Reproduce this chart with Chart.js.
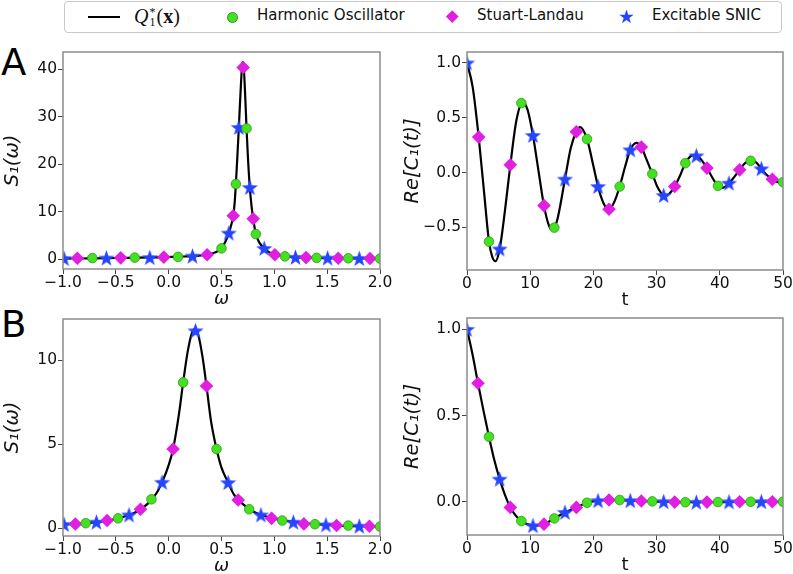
<!DOCTYPE html>
<html>
<head>
<meta charset="utf-8">
<script src="https://cdn.jsdelivr.net/npm/chart.js@4.4.1/dist/chart.umd.min.js"></script>
<style>
  html, body { margin: 0; padding: 0; background: #fff; overflow: hidden; }
  body { width: 793px; height: 574px; position: relative; font-family: 'DejaVu Sans', sans-serif; }
  .box { position: absolute; }
  .txt { position: absolute; white-space: nowrap; color: #111; }
  .q { font-family: 'Liberation Serif', serif; font-size: 20px; line-height: 22px; }
  .ss { display: inline-block; vertical-align: top; font-size: 12px; line-height: 10px; margin: 2px 1px 0 1px; }
  .ss span { display: block; }
</style>
</head>
<body>

<div class="box" style="left:64px;top:1px;width:716px;height:30px;border:1.5px solid #c9c9c9;border-radius:4px;"></div>
<div class="box" style="left:88px;top:15.5px;width:32px;height:2.5px;background:#000;"></div>
<div class="txt q" style="left:134px;top:5px;"><i>Q</i><span class="ss"><span>*</span><span>1</span></span>(<b>x</b>)</div>
<div class="box" style="left:227px;top:11.5px;width:9px;height:9px;border-radius:50%;background:#44e022;border:0.8px solid #2f9a14;"></div>
<div class="txt" style="left:257px;top:8px;font-size:15px;line-height:15px;">Harmonic Oscillator</div>
<div class="box" style="left:447.5px;top:12px;width:8.5px;height:8.5px;background:#e01fe0;transform:rotate(45deg);"></div>
<div class="txt" style="left:477px;top:8px;font-size:15px;line-height:15px;">Stuart-Landau</div>
<canvas id="legStar" class="box" width="15" height="15" style="left:618.5px;top:8.5px;"></canvas>
<div class="txt" style="left:652px;top:8px;font-size:15px;line-height:15px;">Excitable SNIC</div>

<div class="txt" style="left:1px;top:45px;font-size:37px;line-height:36px;color:#000;">A</div>
<div class="txt" style="left:1px;top:307px;font-size:37px;line-height:36px;color:#000;">B</div>

<canvas id="aL" class="box" width="395" height="273" style="left:0px;top:40px;"></canvas>
<canvas id="aR" class="box" width="398" height="274" style="left:395px;top:40px;"></canvas>
<canvas id="bL" class="box" width="395" height="275" style="left:0px;top:305px;"></canvas>
<canvas id="bR" class="box" width="398" height="274" style="left:395px;top:305px;"></canvas>

<script>
// ---- panel A, spectrum S1(w) ----
const aSpecLineX = [-1.0, -0.7, -0.4, -0.1, 0.1, 0.25, 0.36, 0.45, 0.5, 0.54, 0.569, 0.59, 0.611, 0.625, 0.636, 0.65, 0.664, 0.68, 0.695, 0.703, 0.712, 0.725, 0.737, 0.75, 0.768, 0.785, 0.8, 0.825, 0.86, 0.904, 0.95, 1.005, 1.1, 1.2, 1.35, 1.5, 1.7, 2.0]
const aSpecLineY = [0.1, 0.15, 0.25, 0.35, 0.5, 0.65, 0.9, 1.5, 2.24, 3.8, 5.46, 7.0, 9.1, 12.0, 15.8, 21.5, 27.7, 35.0, 40.8, 41.5, 40.0, 34.0, 27.5, 21.5, 15.06, 11.0, 8.48, 5.25, 3.4, 2.24, 1.45, 0.9, 0.56, 0.35, 0.27, 0.2, 0.15, 0.1]
const aSpecHoX = [-0.722, -0.321, 0.089, 0.5, 0.636, 0.737, 0.825, 1.1, 1.4, 1.7, 2.0]
const aSpecHoY = [0.2, 0.3, 0.45, 2.24, 15.8, 27.5, 5.25, 0.56, 0.25, 0.15, 0.1]
const aSpecSlX = [-0.864, -0.454, -0.046, 0.364, 0.611, 0.705, 0.8, 1.005, 1.3, 1.605, 1.905]
const aSpecSlY = [0.15, 0.25, 0.4, 0.9, 9.1, 40.35, 8.48, 0.9, 0.3, 0.15, 0.1]
const aSpecSnX = [-0.99, -0.589, -0.179, 0.225, 0.569, 0.664, 0.768, 0.904, 1.2, 1.504, 1.804]
const aSpecSnY = [0.1, 0.2, 0.3, 0.6, 5.46, 27.7, 15.06, 2.24, 0.35, 0.2, 0.1]

// ---- panel A, correlation Re[C1(t)] ----
const aCorLineX = [0, 0.9, 1.85, 2.7, 3.48, 4.0, 4.5, 5.17, 6.0, 6.86, 7.8, 8.8, 9.6, 10.44, 11.3, 12.18, 13.0, 13.5, 14.2, 15.5, 16.4, 17.3, 17.9, 18.99, 20.0, 20.73, 21.6, 22.47, 23.3, 24.16, 25.0, 25.84, 26.8, 27.58, 28.4, 29.32, 30.2, 31.3, 32.0, 32.86, 33.7, 34.55, 35.3, 36.1, 37.0, 37.97, 38.9, 39.71, 40.4, 41.45, 42.3, 43.14, 44.0, 44.9, 45.7, 46.57, 47.4, 48.31, 49.3, 50]
const aCorLineY = [1.0, 0.78, 0.323, -0.18, -0.631, -0.77, -0.81, -0.698, -0.35, 0.07, 0.47, 0.64, 0.57, 0.338, 0.02, -0.302, -0.49, -0.52, -0.45, -0.061, 0.22, 0.372, 0.415, 0.305, 0.06, -0.128, -0.28, -0.335, -0.27, -0.128, 0.05, 0.207, 0.27, 0.232, 0.12, -0.012, -0.14, -0.215, -0.195, -0.128, -0.03, 0.085, 0.145, 0.16, 0.12, 0.04, -0.055, -0.122, -0.14, -0.098, -0.04, 0.024, 0.085, 0.11, 0.095, 0.034, -0.02, -0.061, -0.09, -0.088]
const aCorHoX = [3.48, 8.6, 13.82, 18.99, 24.16, 29.32, 34.55, 39.71, 44.88, 50]
const aCorHoY = [-0.631, 0.634, -0.503, 0.305, -0.128, -0.012, 0.085, -0.122, 0.107, -0.088]
const aCorSlX = [1.85, 6.86, 12.18, 17.3, 22.47, 27.58, 32.86, 37.97, 43.14, 48.31]
const aCorSlY = [0.323, 0.07, -0.302, 0.372, -0.335, 0.232, -0.128, 0.04, 0.024, -0.061]
const aCorSnX = [0, 5.17, 10.44, 15.5, 20.73, 25.84, 31.12, 36.29, 41.45, 46.57]
const aCorSnY = [1.0, -0.698, 0.338, -0.061, -0.128, 0.207, -0.21, 0.152, -0.098, 0.034]

// ---- panel B, spectrum ----
const bSpecLineX = [-1.0, -0.8, -0.6, -0.45, -0.3, -0.2, -0.1, 0.0, 0.042, 0.1, 0.137, 0.18, 0.22, 0.25, 0.28, 0.32, 0.358, 0.4, 0.453, 0.5, 0.563, 0.62, 0.7, 0.8, 0.9, 1.0, 1.2, 1.4, 1.6, 1.8, 2.0]
const bSpecLineY = [0.22, 0.29, 0.44, 0.64, 1.0, 1.45, 2.25, 3.75, 4.71, 6.9, 8.67, 10.5, 11.6, 11.85, 11.5, 10.2, 8.46, 6.4, 4.71, 3.6, 2.71, 1.98, 1.45, 1.0, 0.74, 0.57, 0.36, 0.24, 0.16, 0.12, 0.1]
const bSpecHoX = [-0.785, -0.479, -0.163, 0.137, 0.453, 0.762, 1.075, 1.384, 1.7, 2.0]
const bSpecHoY = [0.3, 0.59, 1.72, 8.67, 4.71, 1.13, 0.46, 0.24, 0.16, 0.1]
const bSpecSlX = [-0.883, -0.583, -0.267, 0.042, 0.358, 0.658, 0.974, 1.28, 1.589, 1.9]
const bSpecSlY = [0.25, 0.46, 1.13, 4.71, 8.46, 1.68, 0.59, 0.26, 0.16, 0.12]
const bSpecSnX = [-0.99, -0.684, -0.375, -0.062, 0.254, 0.563, 0.873, 1.18, 1.488, 1.804]
const bSpecSnY = [0.22, 0.36, 0.79, 2.73, 11.74, 2.71, 0.79, 0.36, 0.2, 0.12]

// ---- panel B, correlation ----
const bCorLineX = [0, 0.9, 1.74, 2.6, 3.48, 4.3, 5.17, 6.0, 6.86, 7.7, 8.6, 9.5, 10.44, 11.3, 12.18, 13.0, 13.82, 15.5, 17.3, 18.99, 20.73, 22.47, 24.16, 25.84, 27.58, 30, 33, 36, 40, 45, 50]
const bCorLineY = [1.0, 0.85, 0.687, 0.53, 0.377, 0.245, 0.131, 0.04, -0.033, -0.08, -0.112, -0.13, -0.139, -0.137, -0.13, -0.115, -0.097, -0.062, -0.033, -0.006, 0.006, 0.01, 0.01, 0.006, 0.004, 0.001, -0.002, -0.003, -0.002, 0, 0]
const bCorHoX = [3.48, 8.6, 13.82, 18.99, 24.16, 29.32, 34.55, 39.71, 44.88, 50]
const bCorHoY = [0.377, -0.112, -0.097, -0.006, 0.01, 0.002, -0.003, -0.002, 0, 0]
const bCorSlX = [1.74, 6.86, 12.18, 17.3, 22.47, 27.58, 32.86, 37.97, 43.14, 48.31]
const bCorSlY = [0.687, -0.033, -0.13, -0.033, 0.01, 0.004, -0.002, -0.002, 0, 0]
const bCorSnX = [0, 5.17, 10.44, 15.5, 20.73, 25.84, 31.12, 36.29, 41.45, 46.57]
const bCorSnY = [1.0, 0.131, -0.139, -0.062, 0.006, 0.006, 0, -0.003, -0.001, 0]

// ticks
const omegaTicks = [-1.0, -0.5, 0.0, 0.5, 1.0, 1.5, 2.0]
const timeTicks = [0, 10, 20, 30, 40, 50]
const aSpecTicks = [0, 10, 20, 30, 40]
const bSpecTicks = [0, 5, 10]
const aCorTicks = [-0.5, 0.0, 0.5, 1.0]
const bCorTicks = [0.0, 0.5, 1.0]

const GREEN = '#44e022', GREEN_EDGE = '#2f9a14', MAGENTA = '#e01fe0', BLUE = '#2545ff'

Chart.defaults.font.family = 'DejaVu Sans'
Chart.defaults.color = '#111'

function drawStar(c, color) {
    const g = c.getContext('2d')
    const R = c.width / 2, r = R * 0.4, cx = c.width / 2, cy = c.height / 2 + 0.6
    g.beginPath()
    for (let i = 0; i < 10; i++) {
        const a = -Math.PI / 2 + i * Math.PI / 5
        const rr = i % 2 ? r : R
        g.lineTo(cx + rr * Math.cos(a), cy + rr * Math.sin(a))
    }
    g.closePath()
    g.fillStyle = color
    g.fill()
}
function makeStar(size, color) {
    const c = document.createElement('canvas')
    c.width = c.height = size
    drawStar(c, color)
    return c
}
drawStar(document.getElementById('legStar'), BLUE)
const starImg = makeStar(17, BLUE)

const zip = (xs, ys) => xs.map((x, i) => ({ x: x, y: ys[i] }))
const minus = s => s.replace('-', '\u2212')
const fmt1 = v => minus(Number(v).toFixed(1))
const fmt0 = v => minus(String(Math.round(v)))

const frame = {
    id: 'frame',
    afterDatasetsDraw(chart) {
        const { ctx, chartArea: a } = chart
        ctx.save()
        ctx.strokeStyle = '#8c8c8c'
        ctx.lineWidth = 1.5
        ctx.strokeRect(a.left, a.top, a.right - a.left, a.bottom - a.top)
        ctx.restore()
    }
}

const panel = function (id, p) {
    return new Chart(document.getElementById(id), {
        type: 'scatter',
        data: {
            datasets: [
                { data: zip(p.hoX, p.hoY), pointStyle: 'circle', pointRadius: 4.8, backgroundColor: GREEN, borderColor: GREEN_EDGE, borderWidth: 0.8, clip: 0, order: 1 },
                { data: zip(p.slX, p.slY), pointStyle: 'rectRot', pointRadius: 6.8, backgroundColor: MAGENTA, borderColor: MAGENTA, borderWidth: 0, clip: 0, order: 1 },
                { data: zip(p.snX, p.snY), pointStyle: starImg, pointRadius: 7, clip: 0, order: 1 },
                { data: zip(p.lineX, p.lineY), showLine: true, pointRadius: 0, borderColor: '#000', borderWidth: 2.2, cubicInterpolationMode: 'monotone', clip: 0, order: 5 }
            ]
        },
        options: {
            responsive: false,
            animation: false,
            devicePixelRatio: 1,
            layout: { padding: { top: p.padTop, right: p.padRight, left: 0, bottom: 0 } },
            plugins: { legend: { display: false }, tooltip: { enabled: false } },
            scales: {
                x: {
                    type: 'linear', min: p.xMin, max: p.xMax,
                    afterBuildTicks: s => { s.ticks = p.xTicks.map(v => ({ value: v })) },
                    afterFit: s => { s.height = 44 },
                    ticks: { autoSkip: false, maxRotation: 0, padding: 0, color: '#111', font: { size: 15.5 }, callback: p.xFmt },
                    grid: { drawOnChartArea: false, tickLength: 5, color: '#444' },
                    border: { display: false },
                    title: { display: true, text: p.xTitle, color: '#111', font: { size: 18, style: p.xStyle }, padding: { top: 0, bottom: 3.3 } }
                },
                y: {
                    type: 'linear', min: p.yMin, max: p.yMax,
                    afterBuildTicks: s => { s.ticks = p.yTicks.map(v => ({ value: v })) },
                    afterFit: s => { s.width = p.yw },
                    ticks: { autoSkip: false, padding: 1, color: '#111', font: { size: 15.5 }, callback: p.yFmt },
                    grid: { drawOnChartArea: false, tickLength: 5, color: '#444' },
                    border: { display: false },
                    title: { display: true, text: p.yTitle, color: '#111', font: { size: 19.5, style: 'italic' }, padding: { top: p.ytPad, bottom: 0 } }
                }
            }
        },
        plugins: [frame]
    })
}

panel('aL', {
    lineX: aSpecLineX, lineY: aSpecLineY, hoX: aSpecHoX, hoY: aSpecHoY, slX: aSpecSlX, slY: aSpecSlY, snX: aSpecSnX, snY: aSpecSnY,
    xMin: -1, xMax: 2, yMin: -2.1, yMax: 43.6, xTicks: omegaTicks, yTicks: aSpecTicks, xFmt: fmt1, yFmt: fmt0,
    xTitle: '\u03c9', xStyle: 'italic', yTitle: 'S\u2081(\u03c9)', padTop: 12, padRight: 15, yw: 63, ytPad: 1
})
panel('aR', {
    lineX: aCorLineX, lineY: aCorLineY, hoX: aCorHoX, hoY: aCorHoY, slX: aCorSlX, slY: aCorSlY, snX: aCorSnX, snY: aCorSnY,
    xMin: 0, xMax: 50, yMin: -0.89, yMax: 1.10, xTicks: timeTicks, yTicks: aCorTicks, xFmt: fmt0, yFmt: fmt1,
    xTitle: 't', xStyle: 'normal', yTitle: 'Re[C\u2081(t)]', padTop: 12, padRight: 10, yw: 72, ytPad: 6.5
})
panel('bL', {
    lineX: bSpecLineX, lineY: bSpecLineY, hoX: bSpecHoX, hoY: bSpecHoY, slX: bSpecSlX, slY: bSpecSlY, snX: bSpecSnX, snY: bSpecSnY,
    xMin: -1, xMax: 2, yMin: -0.46, yMax: 12.44, xTicks: omegaTicks, yTicks: bSpecTicks, xFmt: fmt1, yFmt: fmt0,
    xTitle: '\u03c9', xStyle: 'italic', yTitle: 'S\u2081(\u03c9)', padTop: 14, padRight: 15, yw: 63, ytPad: 1
})
panel('bR', {
    lineX: bCorLineX, lineY: bCorLineY, hoX: bCorHoX, hoY: bCorHoY, slX: bCorSlX, slY: bCorSlY, snX: bCorSnX, snY: bCorSnY,
    xMin: 0, xMax: 50, yMin: -0.193, yMax: 1.066, xTicks: timeTicks, yTicks: bCorTicks, xFmt: fmt0, yFmt: fmt1,
    xTitle: 't', xStyle: 'normal', yTitle: 'Re[C\u2081(t)]', padTop: 13, padRight: 10, yw: 72, ytPad: 6.5
})
</script>
</body>
</html>
